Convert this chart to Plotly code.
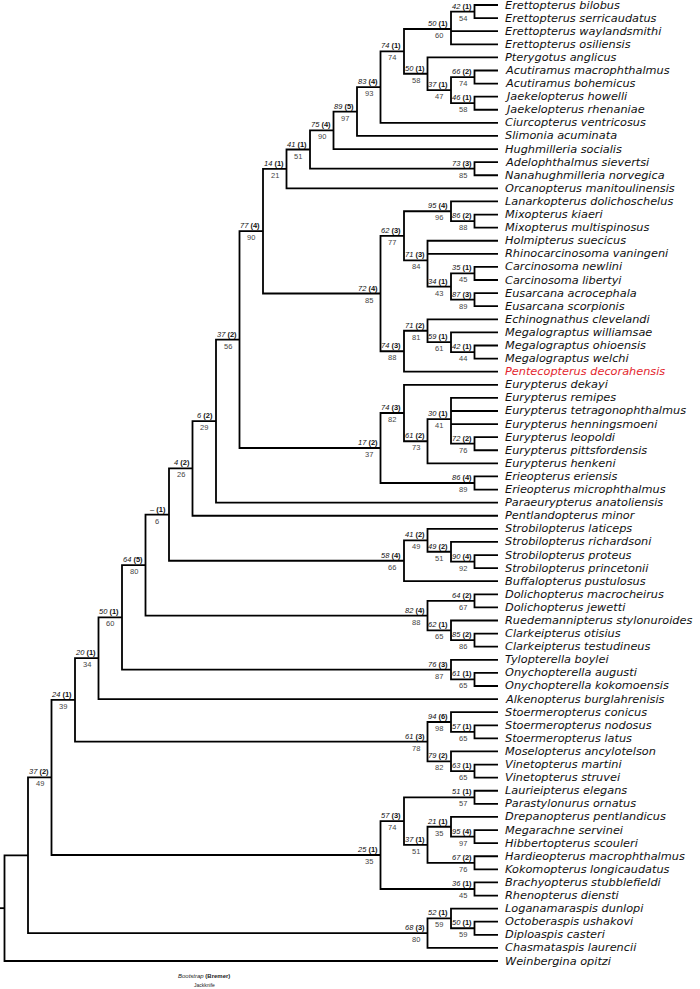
import plotly.graph_objects as go

# ---------------- data ----------------
TAXA = [
    "Erettopterus bilobus", "Erettopterus serricaudatus", "Erettopterus waylandsmithi",
    "Erettopterus osiliensis", "Pterygotus anglicus", "Acutiramus macrophthalmus",
    "Acutiramus bohemicus", "Jaekelopterus howelli", "Jaekelopterus rhenaniae",
    "Ciurcopterus ventricosus", "Slimonia acuminata", "Hughmilleria socialis",
    "Adelophthalmus sievertsi", "Nanahughmilleria norvegica", "Orcanopterus manitoulinensis",
    "Lanarkopterus dolichoschelus", "Mixopterus kiaeri", "Mixopterus multispinosus",
    "Holmipterus suecicus", "Rhinocarcinosoma vaningeni", "Carcinosoma newlini",
    "Carcinosoma libertyi", "Eusarcana acrocephala", "Eusarcana scorpionis",
    "Echinognathus clevelandi", "Megalograptus williamsae", "Megalograptus ohioensis",
    "Megalograptus welchi", "Pentecopterus decorahensis", "Eurypterus dekayi",
    "Eurypterus remipes", "Eurypterus tetragonophthalmus", "Eurypterus henningsmoeni",
    "Eurypterus leopoldi", "Eurypterus pittsfordensis", "Eurypterus henkeni",
    "Erieopterus eriensis", "Erieopterus microphthalmus", "Paraeurypterus anatoliensis",
    "Pentlandopterus minor", "Strobilopterus laticeps", "Strobilopterus richardsoni",
    "Strobilopterus proteus", "Strobilopterus princetonii", "Buffalopterus pustulosus",
    "Dolichopterus macrocheirus", "Dolichopterus jewetti", "Ruedemannipterus stylonuroides",
    "Clarkeipterus otisius", "Clarkeipterus testudineus", "Tylopterella boylei",
    "Onychopterella augusti", "Onychopterella kokomoensis", "Alkenopterus burglahrenisis",
    "Stoermeropterus conicus", "Stoermeropterus nodosus", "Stoermeropterus latus",
    "Moselopterus ancylotelson", "Vinetopterus martini", "Vinetopterus struvei",
    "Laurieipterus elegans", "Parastylonurus ornatus", "Drepanopterus pentlandicus",
    "Megarachne servinei", "Hibbertopterus scouleri", "Hardieopterus macrophthalmus",
    "Kokomopterus longicaudatus", "Brachyopterus stubblefieldi", "Rhenopterus diensti",
    "Loganamaraspis dunlopi", "Octoberaspis ushakovi", "Diploaspis casteri",
    "Chasmataspis laurencii", "Weinbergina opitzi",
]
HIGHLIGHT = ["Pentecopterus decorahensis"]

# Newick pieces: tips are indices into TAXA, node labels are bootstrap/bremer/jackknife
PTERYGOTOIDEA = "(((0,1)42/1/54,2,3)50/1/60,(4,((5,6)66/2/74,(7,8)46/1/58)37/1/47)50/1/58)74/1/74"
UPPER = "(((((" + PTERYGOTOIDEA + ",9)83/4/93,10)89/5/97,11)75/4/90,(12,13)73/3/85)41/1/51,14)14/1/21"
CARCINO = "((15,(16,17)86/2/88)95/4/96,(18,19,((20,21)35/1/45,(22,23)87/3/89)34/1/43)71/3/84)62/3/77"
MEGALO = "((24,(25,(26,27)42/1/44)59/1/61)71/2/81,28)74/3/88"
N77 = "(" + UPPER + ",(" + CARCINO + "," + MEGALO + ")72/4/85)77/4/90"
EURYP = "((29,((30,31,32,(33,34)72/2/76)30/1/41,35)61/2/73)74/3/82,(36,37)86/4/89)17/2/37"
STROB = "((40,(41,(42,43)90/4/92)49/2/51)41/2/49,44)58/4/66"
DOLICHO = "((45,46)64/2/67,(47,(48,49)85/2/86)62/1/65)82/4/88"
ONYCH = "(50,(51,52)61/1/65)76/3/87"
EURYPTERINA = ("(" * 7 + N77 + "," + EURYP + ")37/2/56,38)6/2/29,39)4/2/26,"
               + STROB + ")-/1/6," + DOLICHO + ")64/5/80," + ONYCH + ")50/1/60,53)20/1/34")
STYLO = "((54,(55,56)57/1/65)94/6/98,(57,(58,59)63/1/65)79/2/82)61/3/78"
STYLO2 = "(((60,61)51/1/57,((62,(63,64)95/4/97)21/1/35,(65,66)67/2/76)37/1/51)57/3/74,(67,68)36/1/45)25/1/35"
CHASMA = "((69,(70,71)50/1/59)52/1/59,72)68/3/80"
TREE = ("(" * 4 + EURYPTERINA + "," + STYLO + ")24/1/39," + STYLO2 + ")37/2/49,"
        + CHASMA + "),73);")

LEGEND_TOP = "<i>Bootstrap</i> <b>(Bremer)</b>"
LEGEND_BOTTOM = "Jackknife"

# ---------------- layout constants ----------------
STEP = 23.5          # px per level
TIP_PX = 498.0       # px of tips
ROW0_PX = 5.0
ROW_PX = 13.096
W, H = 700, 989
X0 = TIP_PX / STEP
X1 = X0 - W / STEP
Y0 = -ROW0_PX / ROW_PX
Y1 = (H - ROW0_PX) / ROW_PX
FONT = "Liberation Sans, Arial, sans-serif"
TIP_FONT = "DejaVu Sans, sans-serif"


def parse(s):
    pos = 0

    def label():
        nonlocal pos
        st = pos
        while pos < len(s) and s[pos] not in ",();":
            pos += 1
        return s[st:pos]

    def node():
        nonlocal pos
        if s[pos] == "(":
            pos += 1
            kids = [node()]
            while s[pos] == ",":
                pos += 1
                kids.append(node())
            assert s[pos] == ")"
            pos += 1
            return {"kids": kids, "label": label()}
        return {"tip": int(label())}

    r = node()
    assert s[pos] == ";", s[pos:]
    return r


root = parse(TREE)


def layout(n):
    if "tip" in n:
        n["h"], n["y"] = 0, float(n["tip"])
        return
    for k in n["kids"]:
        layout(k)
    n["h"] = 1 + max(k["h"] for k in n["kids"])
    n["y"] = sum(k["y"] for k in n["kids"]) / len(n["kids"])


layout(root)

xs, ys = [], []
annots = []


def draw(n):
    if "tip" in n:
        return
    kids = sorted(n["kids"], key=lambda k: k["y"])
    a, b = kids[0], kids[-1]
    xs.extend([a["h"], n["h"], n["h"], b["h"], None])
    ys.extend([a["y"], a["y"], b["y"], b["y"], None])
    for k in kids[1:-1]:
        xs.extend([n["h"], k["h"], None])
        ys.extend([k["y"], k["y"], None])
    for k in kids:
        draw(k)
    lab = n.get("label", "")
    if lab:
        bs, br, jk = lab.split("/")
        bs = "–" if bs == "-" else bs
        annots.append(dict(x=n["h"], y=n["y"], text=f"<i>{bs}</i> <b>({br})</b>",
                           xanchor="right", yanchor="bottom", xshift=-1, yshift=-1,
                           showarrow=False, font=dict(size=7.5, color="#111", family=FONT)))
        annots.append(dict(x=n["h"], y=n["y"], text=jk,
                           xanchor="center", yanchor="top", xshift=-12, yshift=0,
                           showarrow=False, font=dict(size=7.5, color="#444", family=FONT)))


draw(root)
# root stem
xs.extend([X0, root["h"], None])
ys.extend([root["y"], root["y"], None])

for i, name in enumerate(TAXA):
    annots.append(dict(x=-6 / STEP, y=i, text=f"<i>{name}</i>", xanchor="left", yanchor="middle",
                       showarrow=False, borderpad=0,
                       font=dict(size=11.3, family=TIP_FONT,
                                 color="#e3262e" if name in HIGHLIGHT else "#111")))

annots.append(dict(x=(TIP_PX - 204) / STEP, y=(976 - ROW0_PX) / ROW_PX, text=LEGEND_TOP,
                   showarrow=False, xanchor="center", yanchor="middle",
                   font=dict(size=6, family=FONT, color="#222")))
annots.append(dict(x=(TIP_PX - 204) / STEP, y=(984.5 - ROW0_PX) / ROW_PX, text=LEGEND_BOTTOM,
                   showarrow=False, xanchor="center", yanchor="middle",
                   font=dict(size=5, family=FONT, color="#222")))

fig = go.Figure(go.Scatter(x=xs, y=ys, mode="lines", hoverinfo="skip",
                           line=dict(color="#000", width=1.8)))
fig.update_layout(
    width=W, height=H, margin=dict(l=0, r=0, t=0, b=0),
    paper_bgcolor="white", plot_bgcolor="white", showlegend=False,
    xaxis=dict(range=[X0, X1], visible=False, fixedrange=True),
    yaxis=dict(range=[Y1, Y0], visible=False, fixedrange=True),
    annotations=annots,
)
fig.write_html("out.html", config={"displayModeBar": False},
               post_script="document.body.style.margin='0';document.body.style.overflow='hidden';")
